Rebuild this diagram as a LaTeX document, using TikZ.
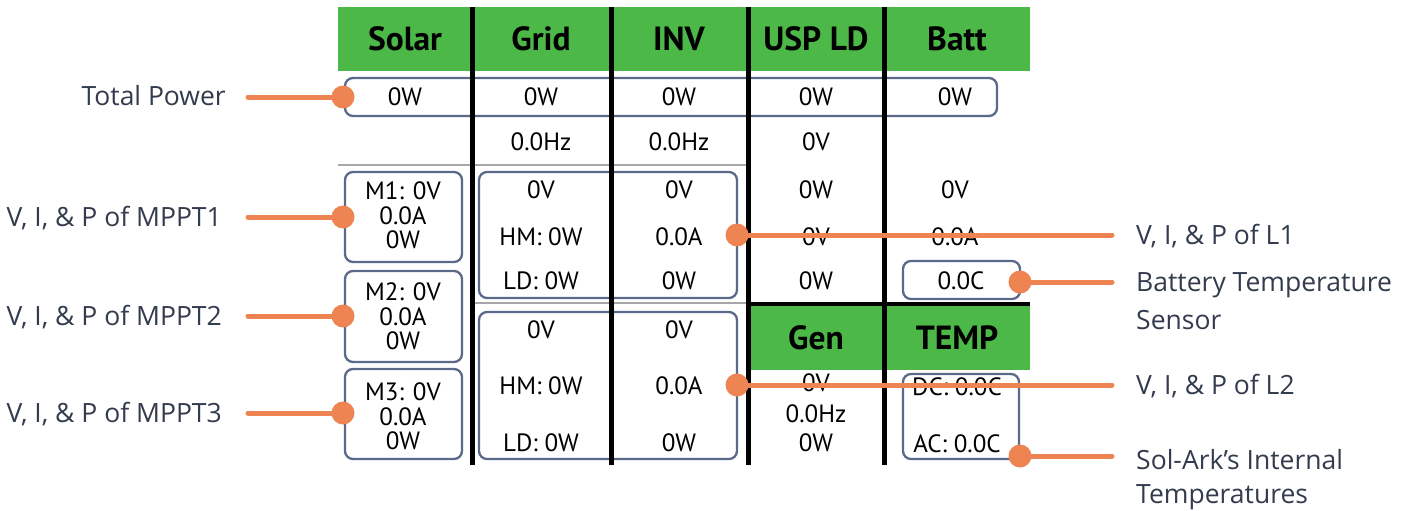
\documentclass[tikz,border=0pt]{standalone}
\usepackage{fontspec}
\setmainfont{PT Sans}
\newfontfamily\lblfont{Open Sans}
\definecolor{hgreen}{HTML}{4CB848}
\definecolor{boxc}{HTML}{5B6A8A}
\definecolor{orng}{HTML}{EE8451}
\definecolor{lblc}{HTML}{333C4E}
\definecolor{grayl}{HTML}{A8A8A8}
\begin{document}
\begin{tikzpicture}[x=1pt,y=-1pt,
  hdr/.style={font=\fontsize{33.5}{33}\selectfont\bfseries, text=black, inner sep=0pt},
  val/.style={font=\fontsize{25}{25}\selectfont, inner sep=0pt, anchor=center, text=black},
  lbl/.style={font=\lblfont\fontsize{26.5}{34}\selectfont, text=lblc, inner sep=0pt},
  rbox/.style={draw=boxc, line width=2.3pt, rounded corners=8pt, inner sep=0pt},
  dotn/.style={circle, fill=orng, inner sep=0pt, minimum size=23pt},
  conn/.style={draw=orng, line width=5pt, line cap=round},
  colline/.style={line width=5pt, black},
  grline/.style={line width=2pt, grayl}]
\useasboundingbox (0,0) rectangle (1408,511);
\fill[white] (0,0) rectangle (1408,511);
% headers
\fill[hgreen] (338,7) rectangle (1030,71);
\fill[hgreen] (748,305) rectangle (1030,370);
\draw[line width=4pt] (748,304) -- (1030,304);
% gray separators
\draw[grline] (338,165) -- (748,165);
\draw[grline] (472,303) -- (748,303);
% rounded boxes
\node[rbox, minimum width=652pt, minimum height=38pt] (tp) at (671,97) {};
\node[rbox, minimum width=117pt, minimum height=90pt] (m1) at (403.5,217) {};
\node[rbox, minimum width=117pt, minimum height=91pt] (m2) at (403.5,316.5) {};
\node[rbox, minimum width=117pt, minimum height=90pt] (m3) at (403.5,414) {};
\node[rbox, minimum width=258pt, minimum height=126pt] (l1) at (608,235) {};
\node[rbox, minimum width=258pt, minimum height=147pt] (l2) at (608,385.5) {};
\node[rbox, minimum width=117pt, minimum height=38pt] (bt) at (961.5,280) {};
\node[rbox, minimum width=116pt, minimum height=85pt] (tb) at (961,416.5) {};
% column lines
\draw[colline] (472,7) -- (472,465);
\draw[colline] (611,7) -- (611,465);
\draw[colline] (748,7) -- (748,465);
\draw[colline] (884,7) -- (884,465);
% header texts
\node[hdr] (hsolar) at (405,39) {Solar};
\node[hdr] (hgrid) at (541,39) {Grid};
\node[hdr] (hinv) at (679,39) {INV};
\node[hdr] (husp) at (816,39) {USP LD};
\node[hdr] (hbatt) at (957,39) {Batt};
\node[hdr] (hgen) at (816,338) {Gen};
\node[hdr] (htemp) at (957,338) {TEMP};
% row 1
\node[val] (r1a) at (405,97) {0W};
\node[val] (r1b) at (541,97) {0W};
\node[val] (r1c) at (679,97) {0W};
\node[val] (r1d) at (816,97) {0W};
\node[val] (r1e) at (955,97) {0W};
% row 2
\node[val] (r2b) at (541,142) {0.0Hz};
\node[val] (r2c) at (679,142) {0.0Hz};
\node[val] (r2d) at (816,142) {0V};
% MPPT
\node[val] (m1a) at (403,191) {M1: 0V};
\node[val] (m1b) at (403,216) {0.0A};
\node[val] (m1c) at (403,240) {0W};
\node[val] (m2a) at (403,292) {M2: 0V};
\node[val] (m2b) at (403,317) {0.0A};
\node[val] (m2c) at (403,341) {0W};
\node[val] (m3a) at (403,392) {M3: 0V};
\node[val] (m3b) at (403,417) {0.0A};
\node[val] (m3c) at (403,441) {0W};
% L1
\node[val] (l1a) at (541,190) {0V};
\node[val] (l1b) at (679,190) {0V};
\node[val] (l1c) at (541,237) {HM: 0W};
\node[val] (l1d) at (679,237) {0.0A};
\node[val] (l1e) at (541,281) {LD: 0W};
\node[val] (l1f) at (679,281) {0W};
% USP / Batt
\node[val] (u1) at (816,190) {0W};
\node[val] (u2) at (816,237) {0V};
\node[val] (u3) at (816,281) {0W};
\node[val] (b1) at (955,190) {0V};
\node[val] (b2) at (955,237) {0.0A};
\node[val] (b3) at (961,281) {0.0C};
% L2
\node[val] (l2a) at (541,330) {0V};
\node[val] (l2b) at (679,330) {0V};
\node[val] (l2c) at (541,386) {HM: 0W};
\node[val] (l2d) at (679,386) {0.0A};
\node[val] (l2e) at (541,443) {LD: 0W};
\node[val] (l2f) at (679,443) {0W};
% Gen / Temp
\node[val] (g1) at (816,383) {0V};
\node[val] (g2) at (816,414) {0.0Hz};
\node[val] (g3) at (816,443) {0W};
\node[val] (t1) at (957,387) {DC: 0.0C};
\node[val] (t2) at (957,444) {AC: 0.0C};
% labels
\node[lbl, anchor=base east] (ltp) at (226,106) {Total Power};
\node[lbl, anchor=base east] (lm1) at (222,226) {V, I, \& P of MPPT1};
\node[lbl, anchor=base east] (lm2) at (222,325) {V, I, \& P of MPPT2};
\node[lbl, anchor=base east] (lm3) at (222,422) {V, I, \& P of MPPT3};
\node[lbl, anchor=base west] (ll1) at (1136,244) {V, I, \& P of L1};
\node[lbl, anchor=base west] (lbt) at (1136,291) {Battery Temperature};
\node[lbl, anchor=base west] (lbt2) at (1136,329) {Sensor};
\node[lbl, anchor=base west] (ll2) at (1136,394) {V, I, \& P of L2};
\node[lbl, anchor=base west] (lsa) at (1136,469) {Sol-Ark’s Internal};
\node[lbl, anchor=base west] (lsa2) at (1136,503) {Temperatures};
% connector ends
\coordinate (ctp) at (248,97);
\coordinate (cm1) at (248,217);
\coordinate (cm2) at (248,316);
\coordinate (cm3) at (248,413);
\coordinate (cl1) at (1112,235);
\coordinate (cbt) at (1112,282);
\coordinate (cl2) at (1112,385);
\coordinate (csa) at (1112,456);
% dots
\node[dotn] (dtp) at (343,97) {};
\node[dotn] (dm1) at (343,217) {};
\node[dotn] (dm2) at (343,316) {};
\node[dotn] (dm3) at (343,413) {};
\node[dotn] (dl1) at (737,235) {};
\node[dotn] (dbt) at (1020,282) {};
\node[dotn] (dl2) at (737,385) {};
\node[dotn] (dsa) at (1020,456) {};
% connectors
\draw[conn] (ctp) -- (dtp.center);
\draw[conn] (cm1) -- (dm1.center);
\draw[conn] (cm2) -- (dm2.center);
\draw[conn] (cm3) -- (dm3.center);
\draw[conn] (dl1.center) -- (cl1);
\draw[conn] (dbt.center) -- (cbt);
\draw[conn] (dl2.center) -- (cl2);
\draw[conn] (dsa.center) -- (csa);
\end{tikzpicture}
\end{document}
